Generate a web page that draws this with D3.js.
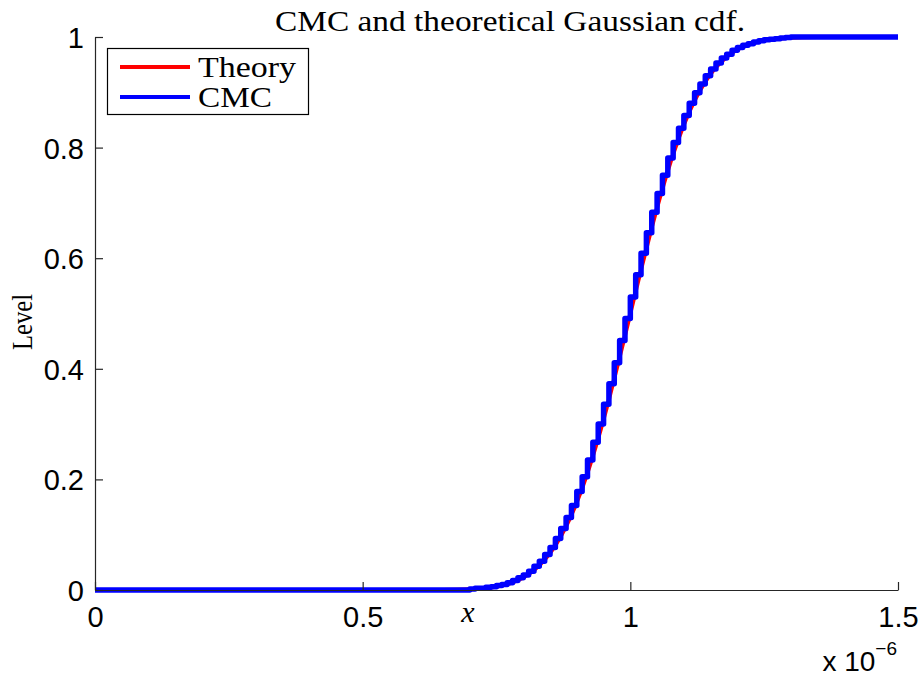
<!DOCTYPE html>
<html>
<head>
<meta charset="utf-8">
<script src="https://cdn.jsdelivr.net/npm/d3@7"></script>
<style>
  body { margin: 0; background: #fff; }
  .tick text { font-family: "Liberation Sans", Arial, sans-serif; }
  .serif { font-family: "Liberation Serif", "DejaVu Serif", serif; }
</style>
</head>
<body>
<svg id="chart" width="923" height="677"></svg>
<script>
// x values are in units of 1e-6
var theoryX = [0, 0.60, 0.65, 0.70, 0.72, 0.74, 0.76, 0.78, 0.80, 0.82, 0.84, 0.86, 0.88, 0.90,
  0.92, 0.94, 0.96, 0.98, 1.00, 1.02, 1.04, 1.06, 1.08, 1.10, 1.12, 1.14, 1.16, 1.18, 1.20,
  1.22, 1.24, 1.26, 1.28, 1.30, 1.35, 1.40, 1.50];
var theoryY = [0, 0.0000, 0.0002, 0.0013, 0.0026, 0.0047, 0.0082, 0.0139, 0.0228, 0.0359, 0.0548, 0.0808, 0.1151, 0.1587,
  0.2119, 0.2743, 0.3446, 0.4207, 0.5000, 0.5793, 0.6554, 0.7257, 0.7881, 0.8413, 0.8849, 0.9192, 0.9452, 0.9641, 0.9772,
  0.9861, 0.9918, 0.9953, 0.9974, 0.9987, 0.9998, 1.0000, 1.0];

var cmcX = [0, 0.70, 0.71, 0.72, 0.73, 0.74, 0.75, 0.76, 0.77, 0.78, 0.79, 0.80, 0.81, 0.82, 0.83, 0.84,
  0.85, 0.86, 0.87, 0.88, 0.89, 0.90, 0.91, 0.92, 0.93, 0.94, 0.95, 0.96, 0.97, 0.98, 0.99,
  1.00, 1.01, 1.02, 1.03, 1.04, 1.05, 1.06, 1.07, 1.08, 1.09, 1.10, 1.11, 1.12, 1.13, 1.14,
  1.15, 1.16, 1.17, 1.18, 1.19, 1.20, 1.21, 1.22, 1.23, 1.24, 1.25, 1.26, 1.27, 1.28, 1.29, 1.30, 1.50];
var cmcY = [0, 0.002, 0.003, 0.003, 0.005, 0.006, 0.008, 0.010, 0.013, 0.017, 0.022, 0.027, 0.034, 0.043, 0.052, 0.064,
  0.077, 0.093, 0.111, 0.131, 0.153, 0.178, 0.205, 0.235, 0.267, 0.300, 0.336, 0.373, 0.411, 0.451, 0.491,
  0.530, 0.570, 0.609, 0.646, 0.683, 0.717, 0.750, 0.781, 0.809, 0.835, 0.858, 0.880, 0.899, 0.915, 0.930,
  0.942, 0.953, 0.962, 0.969, 0.976, 0.981, 0.985, 0.988, 0.991, 0.993, 0.995, 0.996, 0.997, 0.998, 0.999, 1.000, 1.0];

var xTicks = [0, 0.5, 1, 1.5];
var yTicks = [0, 0.2, 0.4, 0.6, 0.8, 1];

var mLeft = 95, mRight = 898, mTop = 37, mBottom = 590;
var axisColor = "#262626";

var svg = d3.select("#chart");

var x = d3.scaleLinear().domain([0, 1.5]).range([mLeft, mRight]);
var y = d3.scaleLinear().domain([0, 1]).range([mBottom, mTop]);

var theory = theoryX.map(function(d, i) { return [d, theoryY[i]]; });
var cmc = cmcX.map(function(d, i) { return [d, cmcY[i]]; });

//curves
svg.append("path")
  .datum(theory)
  .attr("fill", "none")
  .attr("stroke", "#ff0000")
  .attr("stroke-width", 4)
  .attr("d", d3.line().x(function(d) { return x(d[0]); }).y(function(d) { return y(d[1]); }).curve(d3.curveMonotoneX));

svg.append("path")
  .datum(cmc)
  .attr("fill", "none")
  .attr("stroke", "#0000ff")
  .attr("stroke-width", 5.5)
  .attr("stroke-linejoin", "round")
  .attr("d", d3.line().x(function(d) { return x(d[0]); }).y(function(d) { return y(d[1]); }).curve(d3.curveStepAfter));

//axes
var gx = svg.append("g")
  .attr("transform", "translate(0," + mBottom + ")")
  .call(d3.axisBottom(x).tickValues(xTicks).tickSizeInner(-8).tickSizeOuter(0).tickPadding(16)
    .tickFormat(function(d) { return d3.format("")(d); }));
var gy = svg.append("g")
  .attr("transform", "translate(" + mLeft + ",0)")
  .call(d3.axisLeft(y).tickValues(yTicks).tickSizeInner(-8).tickSizeOuter(0).tickPadding(11)
    .tickFormat(function(d) { return d3.format("")(d); }));

[gx, gy].forEach(function(g) {
  g.select(".domain").attr("stroke", axisColor).attr("stroke-width", 1.2);
  g.selectAll(".tick line").attr("stroke", axisColor).attr("stroke-width", 1.2);
  g.selectAll(".tick text").attr("fill", "#000").style("font-size", "29px");
});
gx.selectAll(".tick text").attr("dy", "0.71em");
gy.selectAll(".tick text").attr("dy", "0.36em");

//exponent
var expo = svg.append("text")
  .attr("x", 897)
  .attr("y", 671)
  .attr("text-anchor", "end")
  .style("font-family", "Liberation Sans, Arial, sans-serif")
  .style("font-size", "28px");
expo.append("tspan").text("x 10");
expo.append("tspan").attr("dy", -16).style("font-size", "19px").text("\u22126");

//labels
svg.append("text")
  .attr("class", "serif")
  .attr("x", 510)
  .attr("y", 31)
  .attr("text-anchor", "middle")
  .attr("textLength", 470)
  .attr("lengthAdjust", "spacingAndGlyphs")
  .style("font-size", "30px")
  .text("CMC and theoretical Gaussian cdf.");

svg.append("text")
  .attr("class", "serif")
  .attr("x", 468)
  .attr("y", 622)
  .attr("text-anchor", "middle")
  .style("font-size", "30px")
  .style("font-style", "italic")
  .text("x");

svg.append("text")
  .attr("class", "serif")
  .attr("transform", "translate(32,322) rotate(-90)")
  .attr("text-anchor", "middle")
  .attr("textLength", 56)
  .attr("lengthAdjust", "spacingAndGlyphs")
  .style("font-size", "30px")
  .text("Level");

//legend
var legend = svg.append("g");
legend.append("rect")
  .attr("x", 107.5).attr("y", 48.5)
  .attr("width", 201).attr("height", 66)
  .attr("fill", "#fff")
  .attr("stroke", "#000")
  .attr("stroke-width", 1.2);

var legendItems = [["Theory", "#ff0000", 67, 98], ["CMC", "#0000ff", 97, 74]];
legendItems.forEach(function(item) {
  legend.append("line")
    .attr("x1", 120).attr("x2", 190)
    .attr("y1", item[2]).attr("y2", item[2])
    .attr("stroke", item[1])
    .attr("stroke-width", 4);
  legend.append("text")
    .attr("class", "serif")
    .attr("x", 198)
    .attr("y", item[2] + 10)
    .attr("textLength", item[3])
    .attr("lengthAdjust", "spacingAndGlyphs")
    .style("font-size", "30px")
    .text(item[0]);
});
</script>
</body>
</html>
